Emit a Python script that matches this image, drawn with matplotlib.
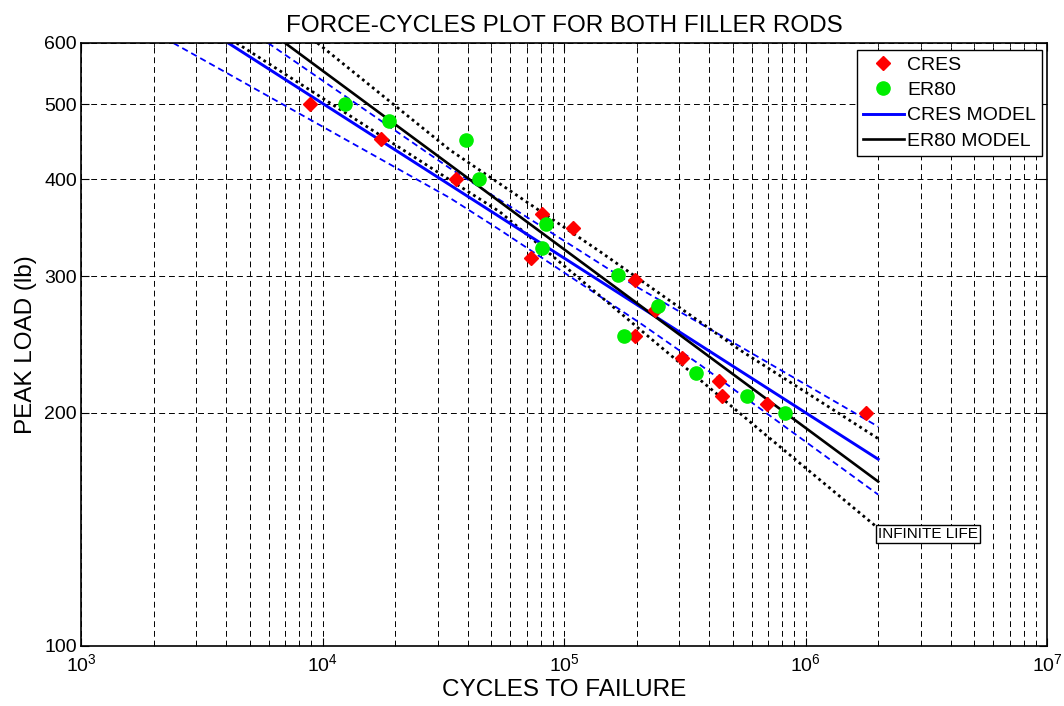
import numpy as np
import matplotlib
matplotlib.use("Agg")
import matplotlib.pyplot as plt
from matplotlib.ticker import FixedLocator, NullLocator, LogLocator, NullFormatter

plt.rcParams['font.family'] = ['Liberation Sans', 'DejaVu Sans']
plt.rcParams['mathtext.fontset'] = 'custom'
plt.rcParams['mathtext.rm'] = 'Liberation Sans'
plt.rcParams['mathtext.default'] = 'regular'

# test data (cycles, peak load lb)
cres_cycles = [8900, 17400, 35600, 80800, 109000, 73200, 197000, 237000,
               197000, 307000, 437000, 451000, 690000, 1776000]
cres_load = [500, 451, 400, 361, 346, 317, 297, 271, 251, 235, 220, 210, 205, 200]

er80_cycles = [12400, 18900, 39300, 44600, 84200, 80800, 168000, 246000,
               178000, 351000, 571000, 825000]
er80_load = [500, 476, 450, 400, 350, 326, 301, 275, 251, 225, 210, 200]

# fitted models (end points)
cres_model_n = [4070, 2.0e6]
cres_model_p = [600, 174.2]
er80_model_n = [7000, 2.0e6]
er80_model_p = [600, 163.0]

# CRES bounds (dashed blue)
cres_up_n = [5950, 33700, 200000, 536000, 2.0e6]
cres_up_p = [600, 413.5, 290.7, 243.5, 191.9]
cres_lo_n = [2410, 33700, 54300, 206000, 366000, 2.0e6]
cres_lo_p = [600, 378.6, 344.3, 261.2, 230.6, 156.8]

# ER80 bounds (dotted black)
er80_up_n = [9530, 33700, 141000, 536000, 2.0e6]
er80_up_p = [600, 436.6, 322.8, 240.9, 185.2]
er80_lo_n = [4410, 33700, 54300, 648000, 2.0e6]
er80_lo_p = [600, 399.4, 363.2, 189.9, 141.9]

yticks = [100, 200, 300, 400, 500, 600]

fig = plt.figure(figsize=(10.64, 7.06), dpi=100)
ax = fig.add_axes([81/1064, 1 - 646/706, 966/1064, 603/706])
ax.set_xscale('log')
ax.set_yscale('log')

dash_b = (0, (3.5, 2.2))
dot_k = (0, (1, 1.3))

ax.plot(cres_up_n, cres_up_p, color='blue', lw=1.3, ls=dash_b)
ax.plot(cres_lo_n, cres_lo_p, color='blue', lw=1.3, ls=dash_b)
ax.plot(er80_up_n, er80_up_p, color='black', lw=2.0, ls=dot_k)
ax.plot(er80_lo_n, er80_lo_p, color='black', lw=2.0, ls=dot_k)
l3, = ax.plot(cres_model_n, cres_model_p, color='blue', lw=2.1, label='CRES MODEL')
l4, = ax.plot(er80_model_n, er80_model_p, color='black', lw=1.9, label='ER80 MODEL')
l1, = ax.plot(cres_cycles, cres_load, ls='none', marker='D', ms=7.3, color='red',
              mec='red', label='CRES', zorder=5)
l2, = ax.plot(er80_cycles, er80_load, ls='none', marker='o', ms=9.5, color='#00ee00',
              mec='#00ee00', label='ER80', zorder=5)

ax.text(er80_lo_n[-1], 139.5, 'INFINITE LIFE', ha='left', va='center', fontsize=11,
        bbox=dict(boxstyle='square,pad=0.15', fc='white', ec='black', lw=1))

ax.set_xlim(1e3, 1e7)
ax.set_ylim(100, 600)

ax.xaxis.set_major_locator(LogLocator(base=10))
ax.xaxis.set_minor_locator(LogLocator(base=10, subs=np.arange(2, 10)))
ax.xaxis.set_minor_formatter(NullFormatter())
ax.set_xticks([1e3, 1e4, 1e5, 1e6, 1e7])
ax.set_xticklabels(['$10^{3}$', '$10^{4}$', '$10^{5}$', '$10^{6}$', '$10^{7}$'])
ax.yaxis.set_major_locator(FixedLocator(yticks))
ax.yaxis.set_minor_locator(NullLocator())
ax.set_yticklabels([str(v) for v in yticks])

ax.tick_params(which='both', direction='in', top=True, right=True, labelsize=14)
ax.tick_params(which='major', length=6)
ax.tick_params(which='minor', length=3)
ax.tick_params(axis='x', which='major', pad=5)
ax.tick_params(axis='y', which='major', pad=3)
grid_ls = (0, (6, 4))
ax.grid(True, which='both', axis='x', color='black', ls=grid_ls, lw=0.7)
ax.grid(True, which='major', axis='y', color='black', ls=grid_ls, lw=0.7)
for s in ax.spines.values():
    s.set_linewidth(1.2)

ax.set_title('FORCE-CYCLES PLOT FOR BOTH FILLER RODS', fontsize=17.5, pad=8)
ax.set_xlabel('CYCLES TO FAILURE', fontsize=17.5, labelpad=3)
ax.set_ylabel('PEAK LOAD (lb)', fontsize=17.5, labelpad=5)

leg = ax.legend(handles=[l1, l2, l3, l4], loc='upper right',
                bbox_to_anchor=(0.995, 0.988), borderaxespad=0, fontsize=14,
                fancybox=False, edgecolor='black', framealpha=1,
                handlelength=2.1, handletextpad=0.2, labelspacing=0.4,
                borderpad=0.3)
leg.get_frame().set_linewidth(1.0)

fig.savefig('out.png', dpi=100)
